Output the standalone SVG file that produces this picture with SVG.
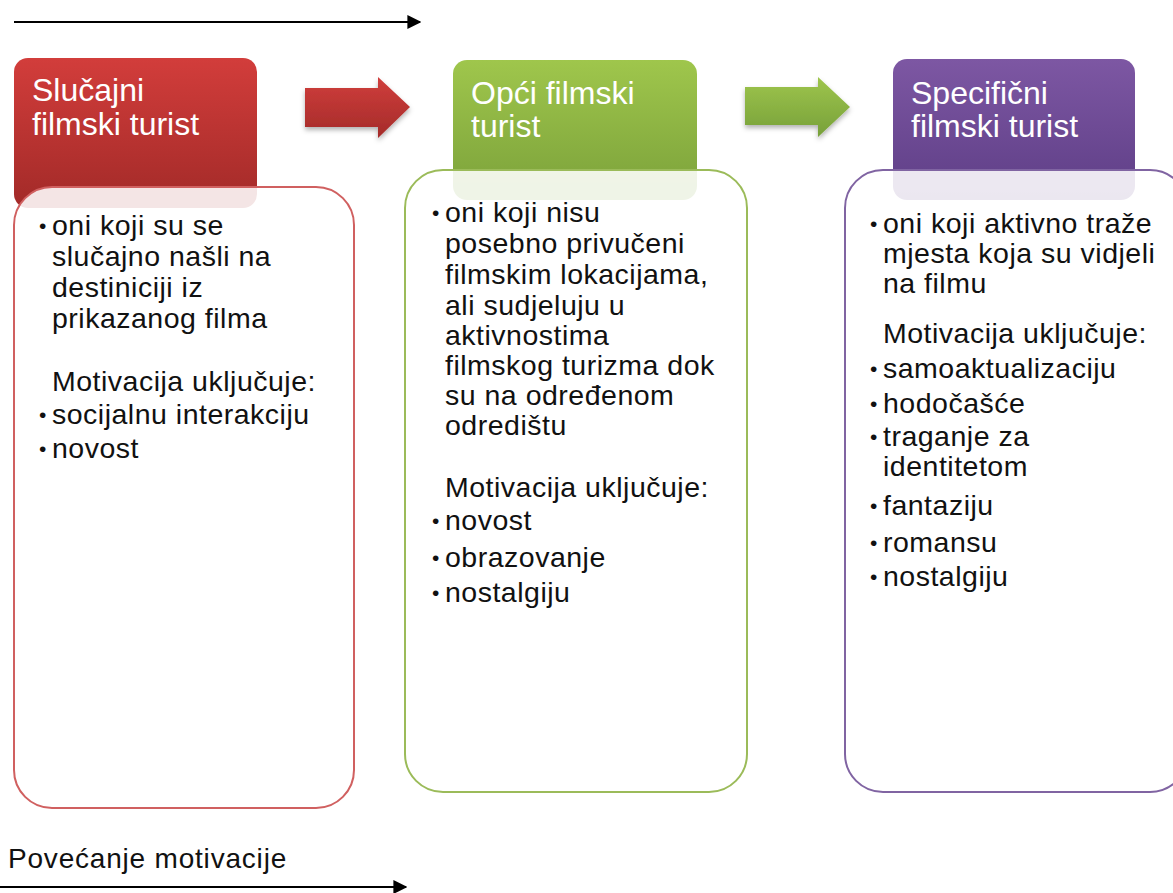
<svg xmlns="http://www.w3.org/2000/svg" width="1173" height="893" viewBox="0 0 1173 893">
<defs>
  <linearGradient id="gRed" x1="0" y1="0" x2="0" y2="1">
    <stop offset="0" stop-color="#d23d3b"/><stop offset="1" stop-color="#a22a28"/>
  </linearGradient>
  <linearGradient id="gGreen" x1="0" y1="0" x2="0" y2="1">
    <stop offset="0" stop-color="#9fc64c"/><stop offset="1" stop-color="#7ba13a"/>
  </linearGradient>
  <linearGradient id="gPurple" x1="0" y1="0" x2="0" y2="1">
    <stop offset="0" stop-color="#7d57a3"/><stop offset="1" stop-color="#5e3e86"/>
  </linearGradient>
  <linearGradient id="aRed" x1="0" y1="0" x2="0" y2="1">
    <stop offset="0" stop-color="#d03e3c"/><stop offset="1" stop-color="#a42b29"/>
  </linearGradient>
  <linearGradient id="aGreen" x1="0" y1="0" x2="0" y2="1">
    <stop offset="0" stop-color="#9ec54c"/><stop offset="1" stop-color="#77a03a"/>
  </linearGradient>
  <filter id="sh" x="-20%" y="-20%" width="140%" height="150%">
    <feDropShadow dx="0" dy="3" stdDeviation="2.5" flood-color="#000" flood-opacity="0.3"/>
  </filter>
  <marker id="ah" viewBox="0 0 10 10" refX="9" refY="5" markerWidth="7" markerHeight="7" markerUnits="strokeWidth" orient="auto">
    <path d="M0,0 L10,5 L0,10 z" fill="#000"/>
  </marker>
  <style>
    text { font-family: "Liberation Sans", Arial, sans-serif; }
    .hd { fill: #ffffff; font-size: 32px; }
    .bd { fill: #111111; font-size: 28.5px; letter-spacing: 0.5px; }
    .bl { font-size: 21px; }
    .box { fill: #ffffff; fill-opacity: 0.88; stroke-width: 2; }
    .axis { stroke: #000; stroke-width: 2; fill: none; }
  </style>
</defs>

<g id="connectors">
  <line class="axis" x1="14" y1="22" x2="420" y2="22" marker-end="url(#ah)"/>
  <line class="axis" x1="0" y1="887" x2="406" y2="887" marker-end="url(#ah)"/>
  <path d="M305,88 L378,88 L378,77 L410,107 L378,138 L378,127 L305,127 Z" fill="url(#aRed)" filter="url(#sh)"/>
  <path d="M745,87 L818,87 L818,77 L850,107 L818,137 L818,125 L745,125 Z" fill="url(#aGreen)" filter="url(#sh)"/>
</g>

<g id="node-slucajni">
  <rect x="14" y="58" width="243" height="150" rx="14" fill="url(#gRed)"/>
  <text class="hd"><tspan x="32" y="101">Slučajni</tspan><tspan x="32" y="135">filmski turist</tspan></text>
  <rect class="box" x="14" y="187" width="340" height="621" rx="38" stroke="#d06060"/>
  <text class="bd">
    <tspan class="bl" x="39" y="233">•</tspan><tspan x="52" y="235">oni koji su se</tspan>
    <tspan x="52" y="266">slučajno našli na</tspan>
    <tspan x="52" y="297">destiniciji iz</tspan>
    <tspan x="52" y="328">prikazanog filma</tspan>
    <tspan x="52" y="391">Motivacija uključuje:</tspan>
    <tspan class="bl" x="39" y="422">•</tspan><tspan x="52" y="424">socijalnu interakciju</tspan>
    <tspan class="bl" x="39" y="456">•</tspan><tspan x="52" y="458">novost</tspan>
  </text>
</g>

<g id="node-opci">
  <rect x="453" y="60" width="244" height="140" rx="14" fill="url(#gGreen)"/>
  <text class="hd"><tspan x="471" y="104">Opći filmski</tspan><tspan x="471" y="137">turist</tspan></text>
  <rect class="box" x="405" y="170" width="342" height="622" rx="38" stroke="#9bbb59"/>
  <text class="bd">
    <tspan class="bl" x="432" y="220">•</tspan><tspan x="445" y="222">oni koji nisu</tspan>
    <tspan x="445" y="253">posebno privučeni</tspan>
    <tspan x="445" y="284">filmskim lokacijama,</tspan>
    <tspan x="445" y="315">ali sudjeluju u</tspan>
    <tspan x="445" y="345">aktivnostima</tspan>
    <tspan x="445" y="375">filmskog turizma dok</tspan>
    <tspan x="445" y="405">su na određenom</tspan>
    <tspan x="445" y="435">odredištu</tspan>
    <tspan x="445" y="497">Motivacija uključuje:</tspan>
    <tspan class="bl" x="432" y="528">•</tspan><tspan x="445" y="530">novost</tspan>
    <tspan class="bl" x="432" y="565">•</tspan><tspan x="445" y="567">obrazovanje</tspan>
    <tspan class="bl" x="432" y="600">•</tspan><tspan x="445" y="602">nostalgiju</tspan>
  </text>
</g>

<g id="node-specificni">
  <rect x="893" y="59" width="242" height="141" rx="14" fill="url(#gPurple)"/>
  <text class="hd"><tspan x="911" y="104">Specifični</tspan><tspan x="911" y="137">filmski turist</tspan></text>
  <rect class="box" x="845" y="170" width="343" height="622" rx="38" stroke="#8064a2"/>
  <text class="bd">
    <tspan class="bl" x="870" y="231">•</tspan><tspan x="883" y="233">oni koji aktivno traže</tspan>
    <tspan x="883" y="263">mjesta koja su vidjeli</tspan>
    <tspan x="883" y="293">na filmu</tspan>
    <tspan x="883" y="343">Motivacija uključuje:</tspan>
    <tspan class="bl" x="870" y="376">•</tspan><tspan x="883" y="378">samoaktualizaciju</tspan>
    <tspan class="bl" x="870" y="411">•</tspan><tspan x="883" y="413">hodočašće</tspan>
    <tspan class="bl" x="870" y="444">•</tspan><tspan x="883" y="446">traganje za</tspan>
    <tspan x="883" y="476">identitetom</tspan>
    <tspan class="bl" x="870" y="513">•</tspan><tspan x="883" y="515">fantaziju</tspan>
    <tspan class="bl" x="870" y="550">•</tspan><tspan x="883" y="552">romansu</tspan>
    <tspan class="bl" x="870" y="584">•</tspan><tspan x="883" y="586">nostalgiju</tspan>
  </text>
</g>

<g id="label-axis">
  <text x="8" y="868" font-size="28" letter-spacing="0.8" fill="#111111">Povećanje motivacije</text>
</g>
</svg>
